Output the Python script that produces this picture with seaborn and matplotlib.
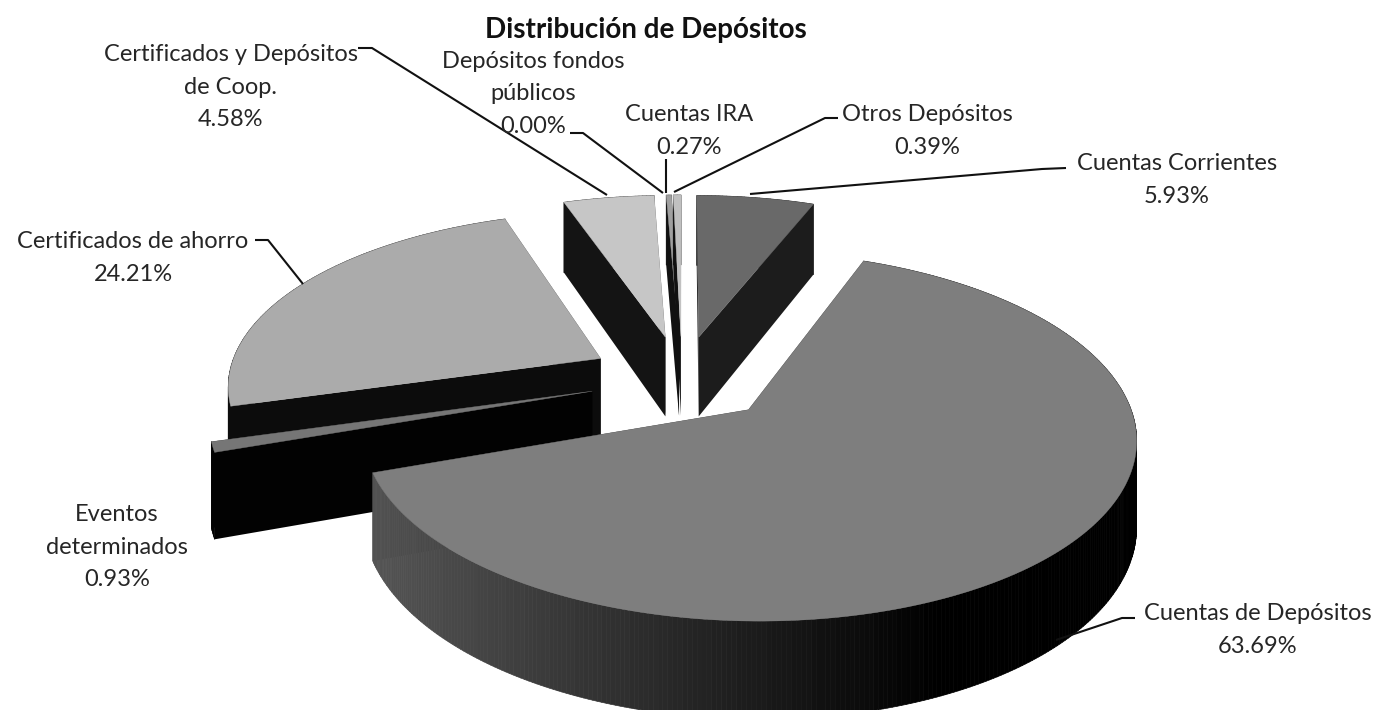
import numpy as np
import matplotlib
matplotlib.use("Agg")
import matplotlib.pyplot as plt
from matplotlib.collections import PolyCollection
from matplotlib.patches import Polygon
import seaborn as sns

# Data, clockwise from 12 o'clock
categories = ["Cuentas Corrientes", "Cuentas de Depósitos", "Eventos determinados",
              "Certificados de ahorro", "Certificados y Depósitos de Coop.",
              "Depósitos fondos públicos", "Cuentas IRA", "Otros Depósitos"]
values = [5.93, 63.69, 0.93, 24.21, 4.58, 0.00, 0.27, 0.39]
label_texts = ["Cuentas Corrientes\n5.93%", "Cuentas de Depósitos\n63.69%",
               "Eventos\ndeterminados\n0.93%", "Certificados de ahorro\n24.21%",
               "Certificados y Depósitos\nde Coop.\n4.58%", "Depósitos fondos\npúblicos\n0.00%",
               "Cuentas IRA\n0.27%", "Otros Depósitos\n0.39%"]
top_colors = ["#696969", "#7e7e7e", "#767676", "#ababab", "#c6c6c6", "#8a8a8a", "#a0a0a0", "#c0c0c0"]
wall_from = ["#1c1c1c", "#545454", "#020202", "#0c0c0c", "#141414", "#111111", "#111111", "#111111"]
wall_to = ["#1c1c1c", "#000000", "#020202", "#0c0c0c", "#141414", "#111111", "#111111", "#111111"]
draw_order = [4, 5, 6, 7, 0, 3, 2, 1]

# Layout (pixel space of the figure)
CX, CY, R, RV, K, H, EXPLODE = 682, 378, 373, 172, 0.14, 82, 0.25
label_pos = [(1177, 180), (1258, 630), (117, 547), (133, 258), (231, 87), (533, 94), (689, 131), (927, 131)]
leaders = [[(750, 194), (1042, 169), (1066, 168)], [(1056, 640), (1122, 618), (1135, 618)],
           [(303, 284), (268, 240), (255, 240)], [(607, 195), (372, 48), (358, 48)],
           [(663, 193), (583, 133), (570, 133)], [(666, 193), (666, 159)],
           [(674, 192), (825, 118), (838, 118)]]

sns.set_theme(style="white")
plt.rcParams["font.family"] = ["Lato", "DejaVu Sans"]

fig = plt.figure(figsize=(13.79, 7.10), dpi=100)
ax = fig.add_axes([0, 0, 1, 1])
ax.set_xlim(0, 1379)
ax.set_ylim(710, 0)
ax.axis("off")


def project(x, y, z=0.0):
    s = 1.0 / (1.0 + K * y)
    return CX + R * x * s, CY - RV * y * s + H * z * s


edges = np.concatenate([[0], np.cumsum(values)]) / sum(values) * 2 * np.pi
for i in draw_order:
    a0, a1 = edges[i], edges[i + 1]
    if a1 <= a0:
        continue
    mid = (a0 + a1) / 2
    ox, oy = EXPLODE * np.sin(mid), EXPLODE * np.cos(mid)
    th = np.linspace(a0, a1, max(3, int((a1 - a0) * 90)))
    wx, wy = ox + np.sin(th), oy + np.cos(th)
    pal = sns.blend_palette([wall_from[i], wall_to[i]], n_colors=64)
    polys, cols = [], []
    tx, ty = project(wx, wy, 0)
    bx, by = project(wx, wy, 1)
    xmin, xmax = tx.min(), tx.max()
    for j in range(len(th) - 1):
        polys.append([(tx[j], ty[j]), (tx[j + 1], ty[j + 1]), (bx[j + 1], by[j + 1]), (bx[j], by[j])])
        f = ((tx[j] - xmin) / max(xmax - xmin, 1)) / 0.75 if i == 1 else 0
        cols.append(pal[min(int(f * 64), 63)])
    apex_t, apex_b = project(ox, oy, 0), project(ox, oy, 1)
    z = 2 + draw_order.index(i)
    for j in (0, -1):
        cut = [apex_t, (tx[j], ty[j]), (bx[j], by[j]), apex_b]
        ax.add_patch(Polygon(cut, closed=True, fc=wall_from[i] if i != 1 else "#000000", ec="none", zorder=z))
    ax.add_collection(PolyCollection(polys, facecolors=cols, edgecolors=cols, linewidths=0.5, zorder=z))
    ax.add_patch(Polygon([apex_t] + list(zip(tx, ty)), closed=True, fc=top_colors[i], ec=top_colors[i], lw=0.3, zorder=z))

for pts in leaders:
    xs, ys = zip(*pts)
    ax.plot(xs, ys, color="#111111", lw=1.5, zorder=20, solid_capstyle="butt")

for t, (x, y) in zip(label_texts, label_pos):
    ax.text(x, y, t, ha="center", va="center", fontsize=17, color="#262626", linespacing=1.65, zorder=21)
ax.text(646, 30, "Distribución de Depósitos", ha="center", va="center", fontsize=20, fontweight="bold", color="#111111", zorder=21)

fig.savefig("out.png", dpi=100, facecolor="white")
